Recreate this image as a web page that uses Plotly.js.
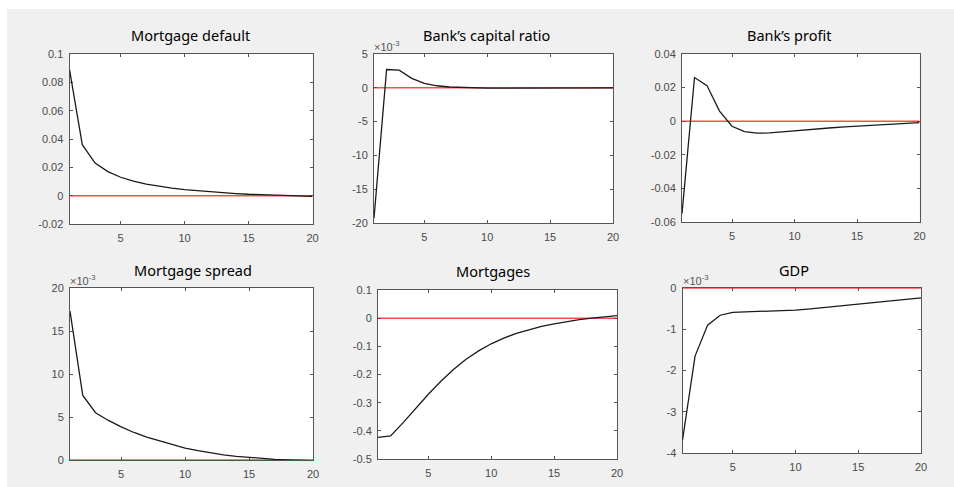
<!DOCTYPE html>
<html>
<head>
<meta charset="utf-8">
<script src="https://cdn.plot.ly/plotly-3.0.1.min.js"></script>
<style>
  html, body { margin: 0; padding: 0; background: #ffffff; width: 954px; height: 487px; overflow: hidden; }
  #chart { position: absolute; left: 7px; top: 9px; width: 947px; height: 478px; }
</style>
</head>
<body>
<div id="chart"></div>
<script>
// ---------------- DATA ----------------
const periods = [1,2,3,4,5,6,7,8,9,10,11,12,13,14,15,16,17,18,19,20];
const zeroLine = [0,0,0,0,0,0,0,0,0,0,0,0,0,0,0,0,0,0,0,0];

const panelTitles = ["Mortgage default", "Bank\u2019s capital ratio", "Bank\u2019s profit",
                     "Mortgage spread", "Mortgages", "GDP"];

const mortgageDefault = [0.089, 0.036, 0.023, 0.017, 0.013, 0.0103, 0.0082, 0.0066, 0.0053, 0.0042,
                         0.0034, 0.0027, 0.0021, 0.0015, 0.0010, 0.0006, 0.0002, -0.0001, -0.0003, -0.0005];
// shown in units of 1e-3
const capitalRatioE3 = [-19.3, 2.7, 2.6, 1.4, 0.65, 0.3, 0.12, 0.03, -0.02, -0.04,
                        -0.05, -0.05, -0.05, -0.04, -0.04, -0.03, -0.03, -0.02, -0.02, -0.01];
const bankProfit = [-0.055, 0.026, 0.0212, 0.0060, -0.0030, -0.0062, -0.0071, -0.0070, -0.0064, -0.0057,
                    -0.0050, -0.0044, -0.0039, -0.0034, -0.0030, -0.0026, -0.0021, -0.0017, -0.0013, -0.0008];
// shown in units of 1e-3
const mortgageSpreadE3 = [17.3, 7.5, 5.5, 4.6, 3.85, 3.2, 2.65, 2.2, 1.75, 1.38,
                          1.08, 0.82, 0.6, 0.43, 0.3, 0.18, 0.08, 0.01, -0.04, -0.08];
const mortgages = [-0.423, -0.418, -0.371, -0.319, -0.270, -0.224, -0.182, -0.146, -0.116, -0.091,
                   -0.071, -0.054, -0.041, -0.029, -0.020, -0.012, -0.005, 0.000, 0.005, 0.009];
// shown in units of 1e-3
const gdpE3 = [-3.69, -1.65, -0.90, -0.66, -0.59, -0.578, -0.572, -0.565, -0.553, -0.535,
               -0.51, -0.48, -0.45, -0.42, -0.39, -0.36, -0.33, -0.30, -0.27, -0.24];

const xTickVals = [5, 10, 15, 20];
const xTickText = ["5", "10", "15", "20"];

const yTicks1 = [-0.02, 0, 0.02, 0.04, 0.06, 0.08, 0.1];
const yText1  = ["-0.02", "0", "0.02", "0.04", "0.06", "0.08", "0.1"];
const yTicks2 = [-20, -15, -10, -5, 0, 5];
const yText2  = ["-20", "-15", "-10", "-5", "0", "5"];
const yTicks3 = [-0.06, -0.04, -0.02, 0, 0.02, 0.04];
const yText3  = ["-0.06", "-0.04", "-0.02", "0", "0.02", "0.04"];
const yTicks4 = [0, 5, 10, 15, 20];
const yText4  = ["0", "5", "10", "15", "20"];
const yTicks5 = [-0.5, -0.4, -0.3, -0.2, -0.1, 0, 0.1];
const yText5  = ["-0.5", "-0.4", "-0.3", "-0.2", "-0.1", "0", "0.1"];
const yTicks6 = [-4, -3, -2, -1, 0];
const yText6  = ["-4", "-3", "-2", "-1", "0"];

const scaleNote = [false, true, false, true, false, true];

// ---------------- LAYOUT ----------------
const W = 947, H = 478, OX = 7, OY = 9;
// plot boxes in page pixels: [left, right, top, bottom]
const boxes = [
  [69.5, 312.5, 54, 224],
  [374, 613, 54, 223],
  [682, 919.5, 54, 222],
  [70, 313, 288, 460],
  [378, 617, 290, 459],
  [682.5, 921, 288, 453]
];
const titlePos = [[190, 35], [487, 35], [788.5, 35], [193, 270], [492.5, 271], [794, 270]];

const series = [mortgageDefault, capitalRatioE3, bankProfit, mortgageSpreadE3, mortgages, gdpE3];
const yTV = [yTicks1, yTicks2, yTicks3, yTicks4, yTicks5, yTicks6];
const yTT = [yText1, yText2, yText3, yText4, yText5, yText6];

const axisColor = '#555555';
const tickFont = {family: 'Liberation Sans', size: 11, color: '#4a4a4a'};

const data = [];
const layout = {
  width: W, height: H,
  margin: {l: 0, r: 0, t: 0, b: 0},
  paper_bgcolor: '#f0f0f0',
  plot_bgcolor: '#ffffff',
  showlegend: false,
  annotations: [],
  font: tickFont
};

for (let i = 0; i < 6; i++) {
  const n = i + 1;
  const xa = n === 1 ? 'x' : 'x' + n;
  const ya = n === 1 ? 'y' : 'y' + n;
  const [l, r, t, b] = boxes[i];
  const yv = yTV[i];
  layout['xaxis' + (n === 1 ? '' : n)] = {
    domain: [(l - OX) / W, (r - OX) / W],
    anchor: ya,
    range: [1, 20],
    tickvals: xTickVals, ticktext: xTickText,
    ticks: 'inside', ticklen: 3, tickcolor: axisColor, tickwidth: 1,
    showline: true, linecolor: axisColor, linewidth: 1, mirror: 'ticks',
    showgrid: false, zeroline: false,
    tickfont: tickFont, fixedrange: true,
    ticklabelstandoff: 4,
    layer: 'below traces'
  };
  layout['yaxis' + (n === 1 ? '' : n)] = {
    domain: [1 - (b - OY) / H, 1 - (t - OY) / H],
    anchor: xa,
    range: [yv[0], yv[yv.length - 1]],
    tickvals: yv, ticktext: yTT[i],
    ticks: 'inside', ticklen: 3, tickcolor: axisColor, tickwidth: 1,
    showline: true, linecolor: axisColor, linewidth: 1, mirror: 'ticks',
    showgrid: false, zeroline: false,
    tickfont: tickFont, fixedrange: true,
    ticklabelstandoff: 3,
    layer: 'below traces'
  };
  data.push({
    x: periods, y: zeroLine, xaxis: xa, yaxis: ya,
    type: 'scatter', mode: 'lines',
    line: {color: 'rgba(255,0,0,0.7)', width: 1.5},
    hoverinfo: 'skip'
  });
  data.push({
    x: periods, y: series[i], xaxis: xa, yaxis: ya,
    type: 'scatter', mode: 'lines',
    line: {color: '#1a1a1a', width: 1.3},
    hoverinfo: 'skip'
  });
  layout.annotations.push({
    text: panelTitles[i], showarrow: false,
    xref: 'paper', yref: 'paper',
    x: (titlePos[i][0] - OX) / W, y: 1 - (titlePos[i][1] - OY) / H,
    xanchor: 'center', yanchor: 'middle',
    font: {family: 'Noto Sans', size: 14.5, color: '#000000'}
  });
  if (scaleNote[i]) {
    layout.annotations.push({
      text: '\u00d710<sup>-3</sup>', showarrow: false,
      xref: xa + ' domain', yref: ya + ' domain',
      x: 0, y: 1, xanchor: 'left', yanchor: 'bottom',
      xshift: -2, yshift: -1,
      font: {family: 'Liberation Sans', size: 11, color: '#555555'}
    });
  }
}

Plotly.newPlot('chart', data, layout, {staticPlot: true, displayModeBar: false});
</script>
</body>
</html>
